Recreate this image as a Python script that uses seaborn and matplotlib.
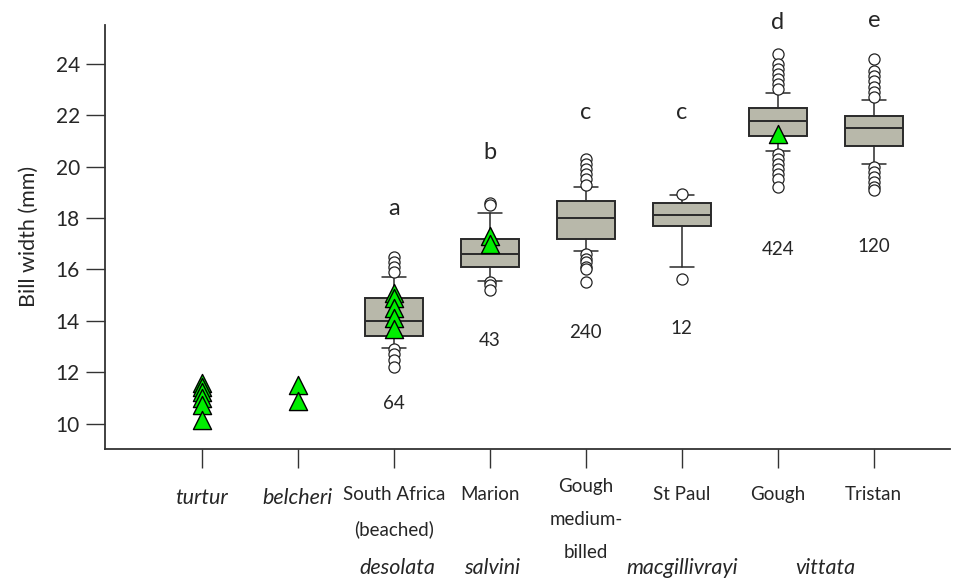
import matplotlib
matplotlib.use("Agg")
import matplotlib.pyplot as plt
import seaborn as sns
import pandas as pd

# populations along the x axis
populations = ["turtur", "belcheri", "South Africa\n(beached)", "Marion",
               "Gough\nmedium-\nbilled", "St Paul", "Gough", "Tristan"]
italic_pops = ["turtur", "belcheri"]

# box statistics (populations 2..7)
box_pops = [2, 3, 4, 5, 6, 7]
box_q1 = [13.42, 16.10, 17.20, 17.70, 21.17, 20.79]
box_med = [14.00, 16.62, 18.00, 18.10, 21.78, 21.48]
box_q3 = [14.90, 17.20, 18.68, 18.60, 22.27, 21.98]
box_lo = [12.96, 15.55, 16.70, 16.10, 20.59, 20.08]
box_hi = [15.70, 18.19, 19.22, 18.88, 22.84, 22.58]
box_out = [
    [16.5, 16.3, 16.1, 15.9, 12.9, 12.7, 12.5, 12.2],
    [18.6, 18.5, 15.5, 15.4, 15.2],
    [20.3, 20.1, 19.9, 19.7, 19.5, 19.3, 16.6, 16.4, 16.3, 16.1, 16.0, 15.5],
    [18.94, 15.65],
    [24.37, 24.0, 23.8, 23.6, 23.4, 23.2, 23.0, 20.5, 20.3, 20.1, 19.9, 19.7, 19.5, 19.2],
    [24.17, 23.72, 23.53, 23.33, 23.1, 22.9, 22.7, 20.0, 19.8, 19.6, 19.4, 19.2, 19.07],
]

# individual specimens (green triangles)
tri_pop = [0, 0, 0, 0, 0, 0, 1, 1, 2, 2, 2, 2, 2, 3, 3, 6]
tri_val = [11.6, 11.45, 11.25, 11.0, 10.75, 10.15, 11.5, 10.9,
           15.1, 14.9, 14.5, 14.1, 13.7, 17.3, 17.0, 21.27]

# significance letters and sample sizes
letters = ["a", "b", "c", "c", "d", "e"]
letter_y = [18.37, 20.54, 22.09, 22.09, 25.58, 25.66]
counts = ["64", "43", "240", "12", "424", "120"]
count_y = [10.78, 13.26, 13.57, 13.72, 16.78, 16.90]

# species names under groups
species = ["desolata", "salvini", "macgillivrayi", "vittata"]
species_x = [2.04, 3.02, 5.0, 6.5]

sns.set_style("white")
plt.rcParams["font.family"] = ["Lato", "DejaVu Sans"]

fig = plt.figure(figsize=(9.7, 5.8), dpi=100)
ax = fig.add_axes([0.108, 0.226, 0.871, 0.731])

stats = []
for i in range(len(box_pops)):
    stats.append(dict(med=box_med[i], q1=box_q1[i], q3=box_q3[i],
                      whislo=box_lo[i], whishi=box_hi[i], fliers=box_out[i]))
ax.bxp(stats, positions=box_pops, widths=0.6, patch_artist=True,
       boxprops=dict(facecolor="#b8b8aa", edgecolor="#2a2a2a", linewidth=1.4),
       medianprops=dict(color="#2a2a2a", linewidth=1.4),
       whiskerprops=dict(color="#2a2a2a", linewidth=1.1),
       capprops=dict(color="#2a2a2a", linewidth=1.1),
       capwidths=0.25,
       flierprops=dict(marker="o", markerfacecolor="white", markeredgecolor="#222222",
                       markersize=8, markeredgewidth=0.9))

tri = pd.DataFrame({"pop": tri_pop, "width": tri_val})
sns.scatterplot(data=tri, x="pop", y="width", marker="^", s=170, color="#00ee00",
                edgecolor="black", linewidth=1.0, zorder=5, ax=ax)

for p, l, y in zip(box_pops, letters, letter_y):
    ax.text(p, y, l, ha="center", va="center", fontsize=17, clip_on=False)
for p, c, y in zip(box_pops, counts, count_y):
    ax.text(p, y, c, ha="center", va="center", fontsize=13.5)

ax.set_xlim(-1.01, 7.79)
ax.set_ylim(9.03, 25.5)
ax.set_yticks([10, 12, 14, 16, 18, 20, 22, 24])
ax.set_xticks(range(len(populations)))
ax.set_xticklabels([])
ax.set_xlabel("")
ax.set_ylabel("Bill width (mm)", fontsize=15.5, labelpad=12)
ax.tick_params(axis="y", direction="out", length=14, width=1, color="#333333",
               labelsize=15, left=True, pad=4)
ax.tick_params(axis="x", direction="out", length=14, width=1, color="#333333", bottom=True)
for s in ["top", "right"]:
    ax.spines[s].set_visible(False)
for s in ["left", "bottom"]:
    ax.spines[s].set_color("#333333")
    ax.spines[s].set_linewidth(1.3)

xt = ax.get_xaxis_transform()
for i, name in enumerate(populations):
    y = -0.069 if name.count("\n") == 2 else -0.088
    italic = name in italic_pops
    ax.text(i, y - (0.004 if italic else 0), name, ha="center", va="top",
            fontsize=15.5 if italic else 13.5, style="italic" if italic else "normal",
            linespacing=2.15, transform=xt, clip_on=False)
for x, name in zip(species_x, species):
    ax.text(x, -0.281, name, ha="center", va="center", fontsize=15.5, style="italic",
            transform=xt, clip_on=False)

fig.savefig("out.png", dpi=100)
